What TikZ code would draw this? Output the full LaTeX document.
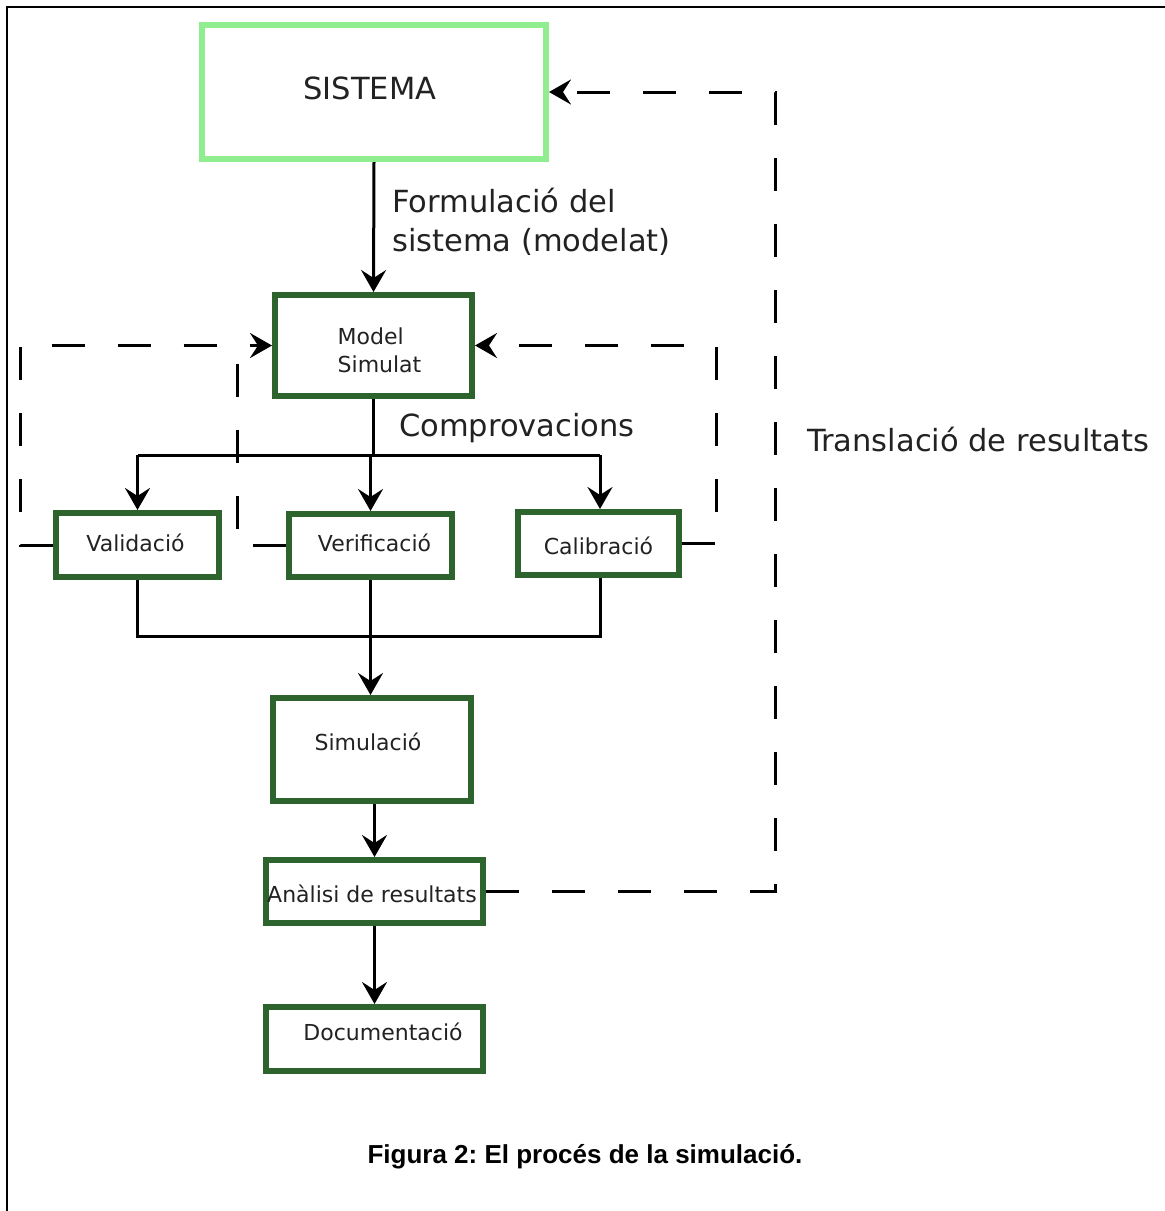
\documentclass[tikz,border=0pt]{standalone}
\usepackage{fontspec}
\setmainfont{DejaVu Sans}
\newfontfamily\capfont{Liberation Sans}
\usetikzlibrary{arrows.meta}
\definecolor{lgreen}{RGB}{144,238,144}
\definecolor{dgreen}{RGB}{45,100,45}
\definecolor{txt}{RGB}{34,34,34}
\frenchspacing
\tikzset{
  bigtext/.style={text=txt,font=\fontsize{30.5}{39}\selectfont},
  smalltext/.style={text=txt,font=\fontsize{22}{28}\selectfont},
  topbox/.style={draw=lgreen,line width=6pt,fill=white,bigtext,inner sep=0pt},
  gbox/.style={draw=dgreen,line width=6pt,fill=white,smalltext,inner sep=0pt,align=center},
  oneline/.style={text height=16pt,text depth=4pt},
  conn/.style={line width=3pt,draw=black},
  tip/.style={-{Stealth[length=22pt,width=25pt,inset=8pt]}},
  dashline/.style={line width=3pt,dash pattern=on 33pt off 33pt},
}
\begin{document}
\begin{tikzpicture}[x=1pt,y=-1pt]
\useasboundingbox (0,0) rectangle (1165,1211);
% frame (top and left edges)
\draw[line width=2pt] (1165,7) -- (7,7) -- (7,1211);

% boxes
\node[topbox,oneline,minimum width=344pt,minimum height=134pt] (sis) at (374,92) {\raisebox{-1pt}{SISTEMA}\hspace*{8pt}};
\node[gbox,align=left,minimum width=197pt,minimum height=101pt] (mod) at (373.5,345.5) {\rule{0pt}{26pt}\hspace*{12pt}Model\\\hspace*{12pt}Simulat};
\node[gbox,oneline,minimum width=163pt,minimum height=64pt] (val) at (137.5,545) {Validació\hspace*{4pt}};
\node[gbox,oneline,minimum width=163pt,minimum height=63pt] (ver) at (370.5,545.5) {\hspace*{8pt}Verificació};
\node[gbox,oneline,minimum width=161pt,minimum height=63pt] (cal) at (598.5,543.5) {\raisebox{-4.5pt}{Calibració}};
\node[gbox,oneline,minimum width=198pt,minimum height=103pt] (sim) at (372,749.5) {\raisebox{5.5pt}{Simulació}\hspace*{8pt}};
\node[gbox,oneline,minimum width=217pt,minimum height=63pt] (ana) at (374.5,891.5) {\raisebox{-5pt}{Anàlisi de resultats}\hspace*{5pt}};
\node[gbox,oneline,minimum width=217pt,minimum height=64pt] (doc) at (374.5,1039) {\hspace*{17pt}\raisebox{5pt}{Documentació}};

% labels
\node[bigtext,anchor=west,align=left,inner sep=0pt] (form) at (392,222) {Formulació del\\sistema (modelat)};
\node[bigtext,anchor=west,inner sep=0pt] (comp) at (399,428) {Comprovacions};
\node[bigtext,anchor=west,inner sep=0pt] (trans) at (807,440) {Translació de resultats};
\node[font=\capfont\bfseries\fontsize{26}{30}\selectfont,inner sep=0pt] (cap) at (585,1157) {Figura 2: El procés de la simulació.};

% helper coordinates
\coordinate (tl) at (137.5,455);
\coordinate (tr) at (600,455);
\coordinate (tm) at (373.5,455);
\coordinate (bl) at (137.5,636);
\coordinate (br) at (600,636);
\coordinate (rb) at (775,891.5);
\coordinate (rt) at (775,92);
\coordinate (cb) at (716,543.5);
\coordinate (ct) at (716,345.5);
\coordinate (lb) at (20,545);
\coordinate (lt) at (20,345.5);
\coordinate (mb) at (237,545.5);
\coordinate (mt) at (237,345.5);

% solid connectors
\draw[conn,tip] (sis.south) -- (mod.north);
\draw[conn] (mod.south) -- (tm);
\draw[conn] (tl) -- (tr);
\draw[conn,tip] (tl) -- (val.north);
\draw[conn,tip] (ver.north |- tm) -- (ver.north);
\draw[conn,tip] (tr) -- (tr |- cal.north);
\draw[conn] (val.south) -- (bl) -- (br) -- (br |- cal.south);
\draw[conn,tip] (ver.south) -- (ver.south |- sim.north);
\draw[conn,tip] (ana.north |- sim.south) -- (ana.north);
\draw[conn,tip] (ana.south) -- (doc.north);

% dashed feedback loops
\draw[dashline,tip] (ana.east) -- (rb) -- (rt) -- (sis.east);
\draw[dashline,tip] (cal.east) -- (cb) -- (ct) -- (mod.east);
\draw[dashline,tip] (val.west) -- (lb) -- (lt) -- (mod.west);
\draw[dashline] (ver.west) -- (mb) -- (mt);
\end{tikzpicture}
\end{document}
